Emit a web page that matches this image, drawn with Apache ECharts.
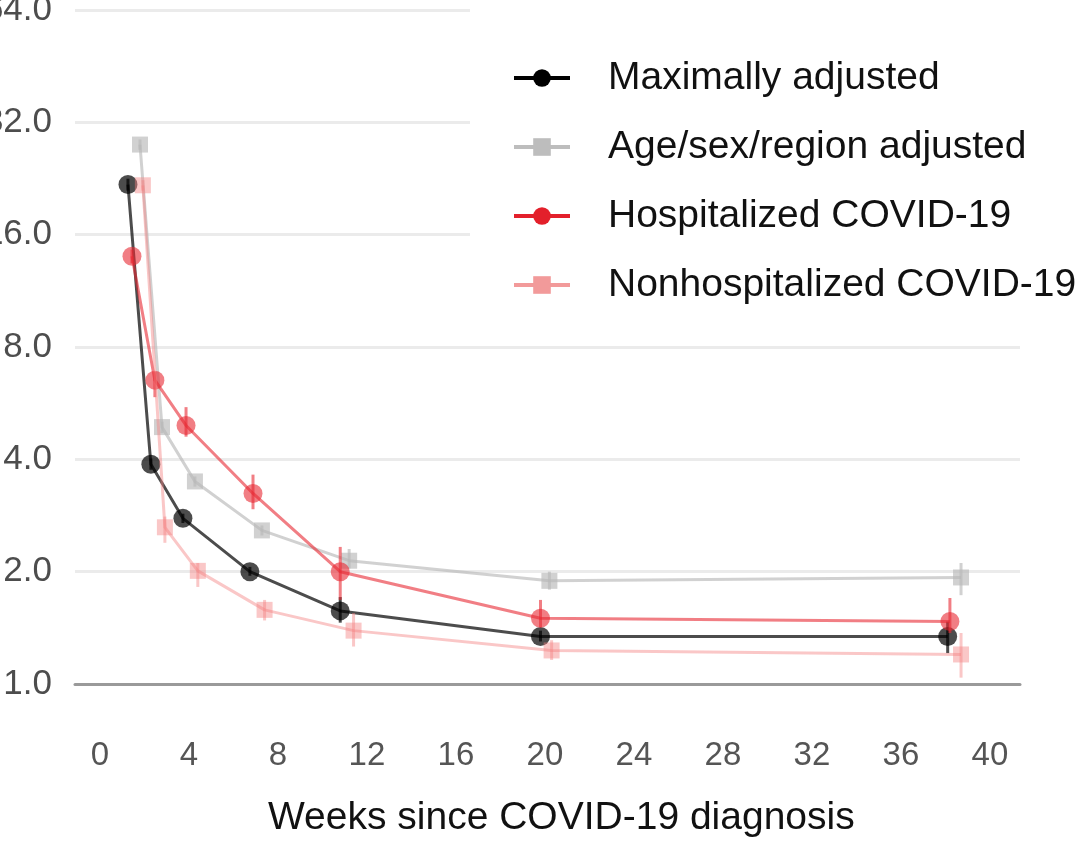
<!DOCTYPE html>
<html>
<head>
<meta charset="utf-8">
<script src="https://cdn.jsdelivr.net/npm/echarts@6/dist/echarts.min.js"></script>
<style>
html,body{margin:0;padding:0;background:#fff;}
#chart{width:1082px;height:846px;}
</style>
</head>
<body>
<div id="chart"></div>
<script>
// ---- data ----
var seriesNames = ['Maximally adjusted', 'Age/sex/region adjusted', 'Hospitalized COVID-19', 'Nonhospitalized COVID-19'];
var xTickLabels = [0, 4, 8, 12, 16, 20, 24, 28, 32, 36, 40];
var yTickLabels = [1, 2, 4, 8, 16, 32, 64];

var maxWeeks = [1.26, 2.29, 3.73, 6.74, 10.8, 19.8, 38.1];
var maxVals  = [21.8, 3.88, 2.78, 2.00, 1.57, 1.34, 1.34];
var maxLow   = [21.0, 3.75, 2.70, 1.95, 1.46, 1.30, 1.21];
var maxHigh  = [22.6, 4.02, 2.86, 2.06, 1.71, 1.39, 1.47];

var ageWeeks = [1.80, 2.79, 4.27, 7.28, 11.2, 20.2, 38.7];
var ageVals  = [27.9, 4.88, 3.49, 2.58, 2.14, 1.89, 1.93];
var ageLow   = [27.0, 4.70, 3.38, 2.50, 2.04, 1.79, 1.73];
var ageHigh  = [28.8, 5.05, 3.60, 2.66, 2.30, 2.00, 2.11];

var hospWeeks = [1.44, 2.47, 3.87, 6.88, 10.8, 19.8, 38.2];
var hospVals  = [14.0, 6.52, 4.93, 3.24, 2.00, 1.50, 1.47];
var hospLow   = [13.4, 5.87, 4.60, 2.94, 1.68, 1.42, 1.37];
var hospHigh  = [14.6, 6.85, 5.52, 3.64, 2.33, 1.68, 1.70];

var nonWeeks = [1.93, 2.92, 4.40, 7.40, 11.4, 20.3, 38.7];
var nonVals  = [21.7, 2.63, 2.01, 1.58, 1.39, 1.23, 1.20];
var nonLow   = [21.0, 2.39, 1.82, 1.48, 1.26, 1.16, 1.04];
var nonHigh  = [22.4, 2.81, 2.11, 1.68, 1.55, 1.31, 1.37];

// ---- build ----
function pairs(xs, ys) { return xs.map(function (x, i) { return [x, ys[i]]; }); }
function triples(xs, lo, hi) { return xs.map(function (x, i) { return [x, lo[i], hi[i]]; }); }

var lineColors  = ['rgba(0,0,0,0.7)', 'rgba(185,185,185,0.65)', 'rgba(232,40,50,0.6)', 'rgba(245,130,130,0.45)'];
var legendColors = ['#000000', '#bdbdbd', '#e3202b', '#f29a9a'];
var symbols = ['circle', 'rect', 'circle', 'rect'];
var symSizes = [19, 16, 19, 16];

var groups = [
  {w: maxWeeks, v: maxVals, lo: maxLow, hi: maxHigh},
  {w: ageWeeks, v: ageVals, lo: ageLow, hi: ageHigh},
  {w: hospWeeks, v: hospVals, lo: hospLow, hi: hospHigh},
  {w: nonWeeks, v: nonVals, lo: nonLow, hi: nonHigh}
];

var series = [];
groups.forEach(function (g, k) {
  series.push({
    name: 'err' + k,
    type: 'custom',
    data: triples(g.w, g.lo, g.hi),
    z: 2 + k,
    renderItem: function (params, api) {
      var p1 = api.coord([api.value(0), api.value(1)]);
      var p2 = api.coord([api.value(0), api.value(2)]);
      return {
        type: 'line',
        shape: {x1: p1[0], y1: p1[1], x2: p2[0], y2: p2[1]},
        style: {stroke: lineColors[k], lineWidth: 3}
      };
    },
    silent: true
  });
  series.push({
    name: seriesNames[k],
    type: 'line',
    data: pairs(g.w, g.v),
    z: 2 + k,
    symbol: symbols[k],
    symbolSize: symSizes[k],
    showAllSymbol: true,
    lineStyle: {color: lineColors[k], width: 3},
    itemStyle: {color: lineColors[k]},
    emphasis: {disabled: true},
    animation: false
  });
});

var chart = echarts.init(document.getElementById('chart'), null, {renderer: 'canvas'});
chart.setOption({
  animation: false,
  backgroundColor: '#ffffff',
  grid: {left: 75, right: 62, top: 10, bottom: 162, containLabel: false, outerBoundsMode: 'none'},
  xAxis: {
    type: 'value',
    min: -1.12,
    max: 41.35,
    splitLine: {show: false},
    axisTick: {show: false},
    axisLine: {show: true, lineStyle: {color: '#9a9a9a', width: 3}},
    axisLabel: {
      customValues: xTickLabels,
      fontSize: 33,
      fontFamily: 'Liberation Sans, Arial, sans-serif',
      color: '#555555',
      margin: 55
    }
  },
  yAxis: {
    type: 'log',
    logBase: 2,
    min: 1,
    max: 64,
    axisLine: {show: false},
    axisTick: {show: false},
    splitLine: {show: true, lineStyle: {color: '#ebebeb', width: 3}},
    axisLabel: {
      customValues: yTickLabels,
      fontSize: 35,
      fontFamily: 'Liberation Sans, Arial, sans-serif',
      color: '#4d4d4d',
      margin: 23,
      formatter: function (v) { return Number(v).toFixed(1); }
    }
  },
  legend: {
    left: 470,
    top: 3,
    orient: 'vertical',
    backgroundColor: '#ffffff',
    padding: [54, 2, 36, 42],
    itemWidth: 56,
    itemHeight: 22,
    itemGap: 27,
    selectedMode: false,
    textStyle: {
      fontSize: 39,
      lineHeight: 42,
      color: '#111111',
      fontFamily: 'Liberation Sans, Arial, sans-serif',
      padding: [0, 0, 0, 33]
    },
    data: seriesNames.map(function (n, k) {
      return {
        name: n,
        itemStyle: {color: legendColors[k]},
        lineStyle: {color: legendColors[k], width: 4}
      };
    })
  },
  graphic: [{
    type: 'text',
    left: 268,
    top: 799,
    style: {
      text: 'Weeks since COVID-19 diagnosis',
      fontSize: 39,
      fontFamily: 'Liberation Sans, Arial, sans-serif',
      fill: '#111111'
    }
  }],
  series: series
});
</script>
</body>
</html>
